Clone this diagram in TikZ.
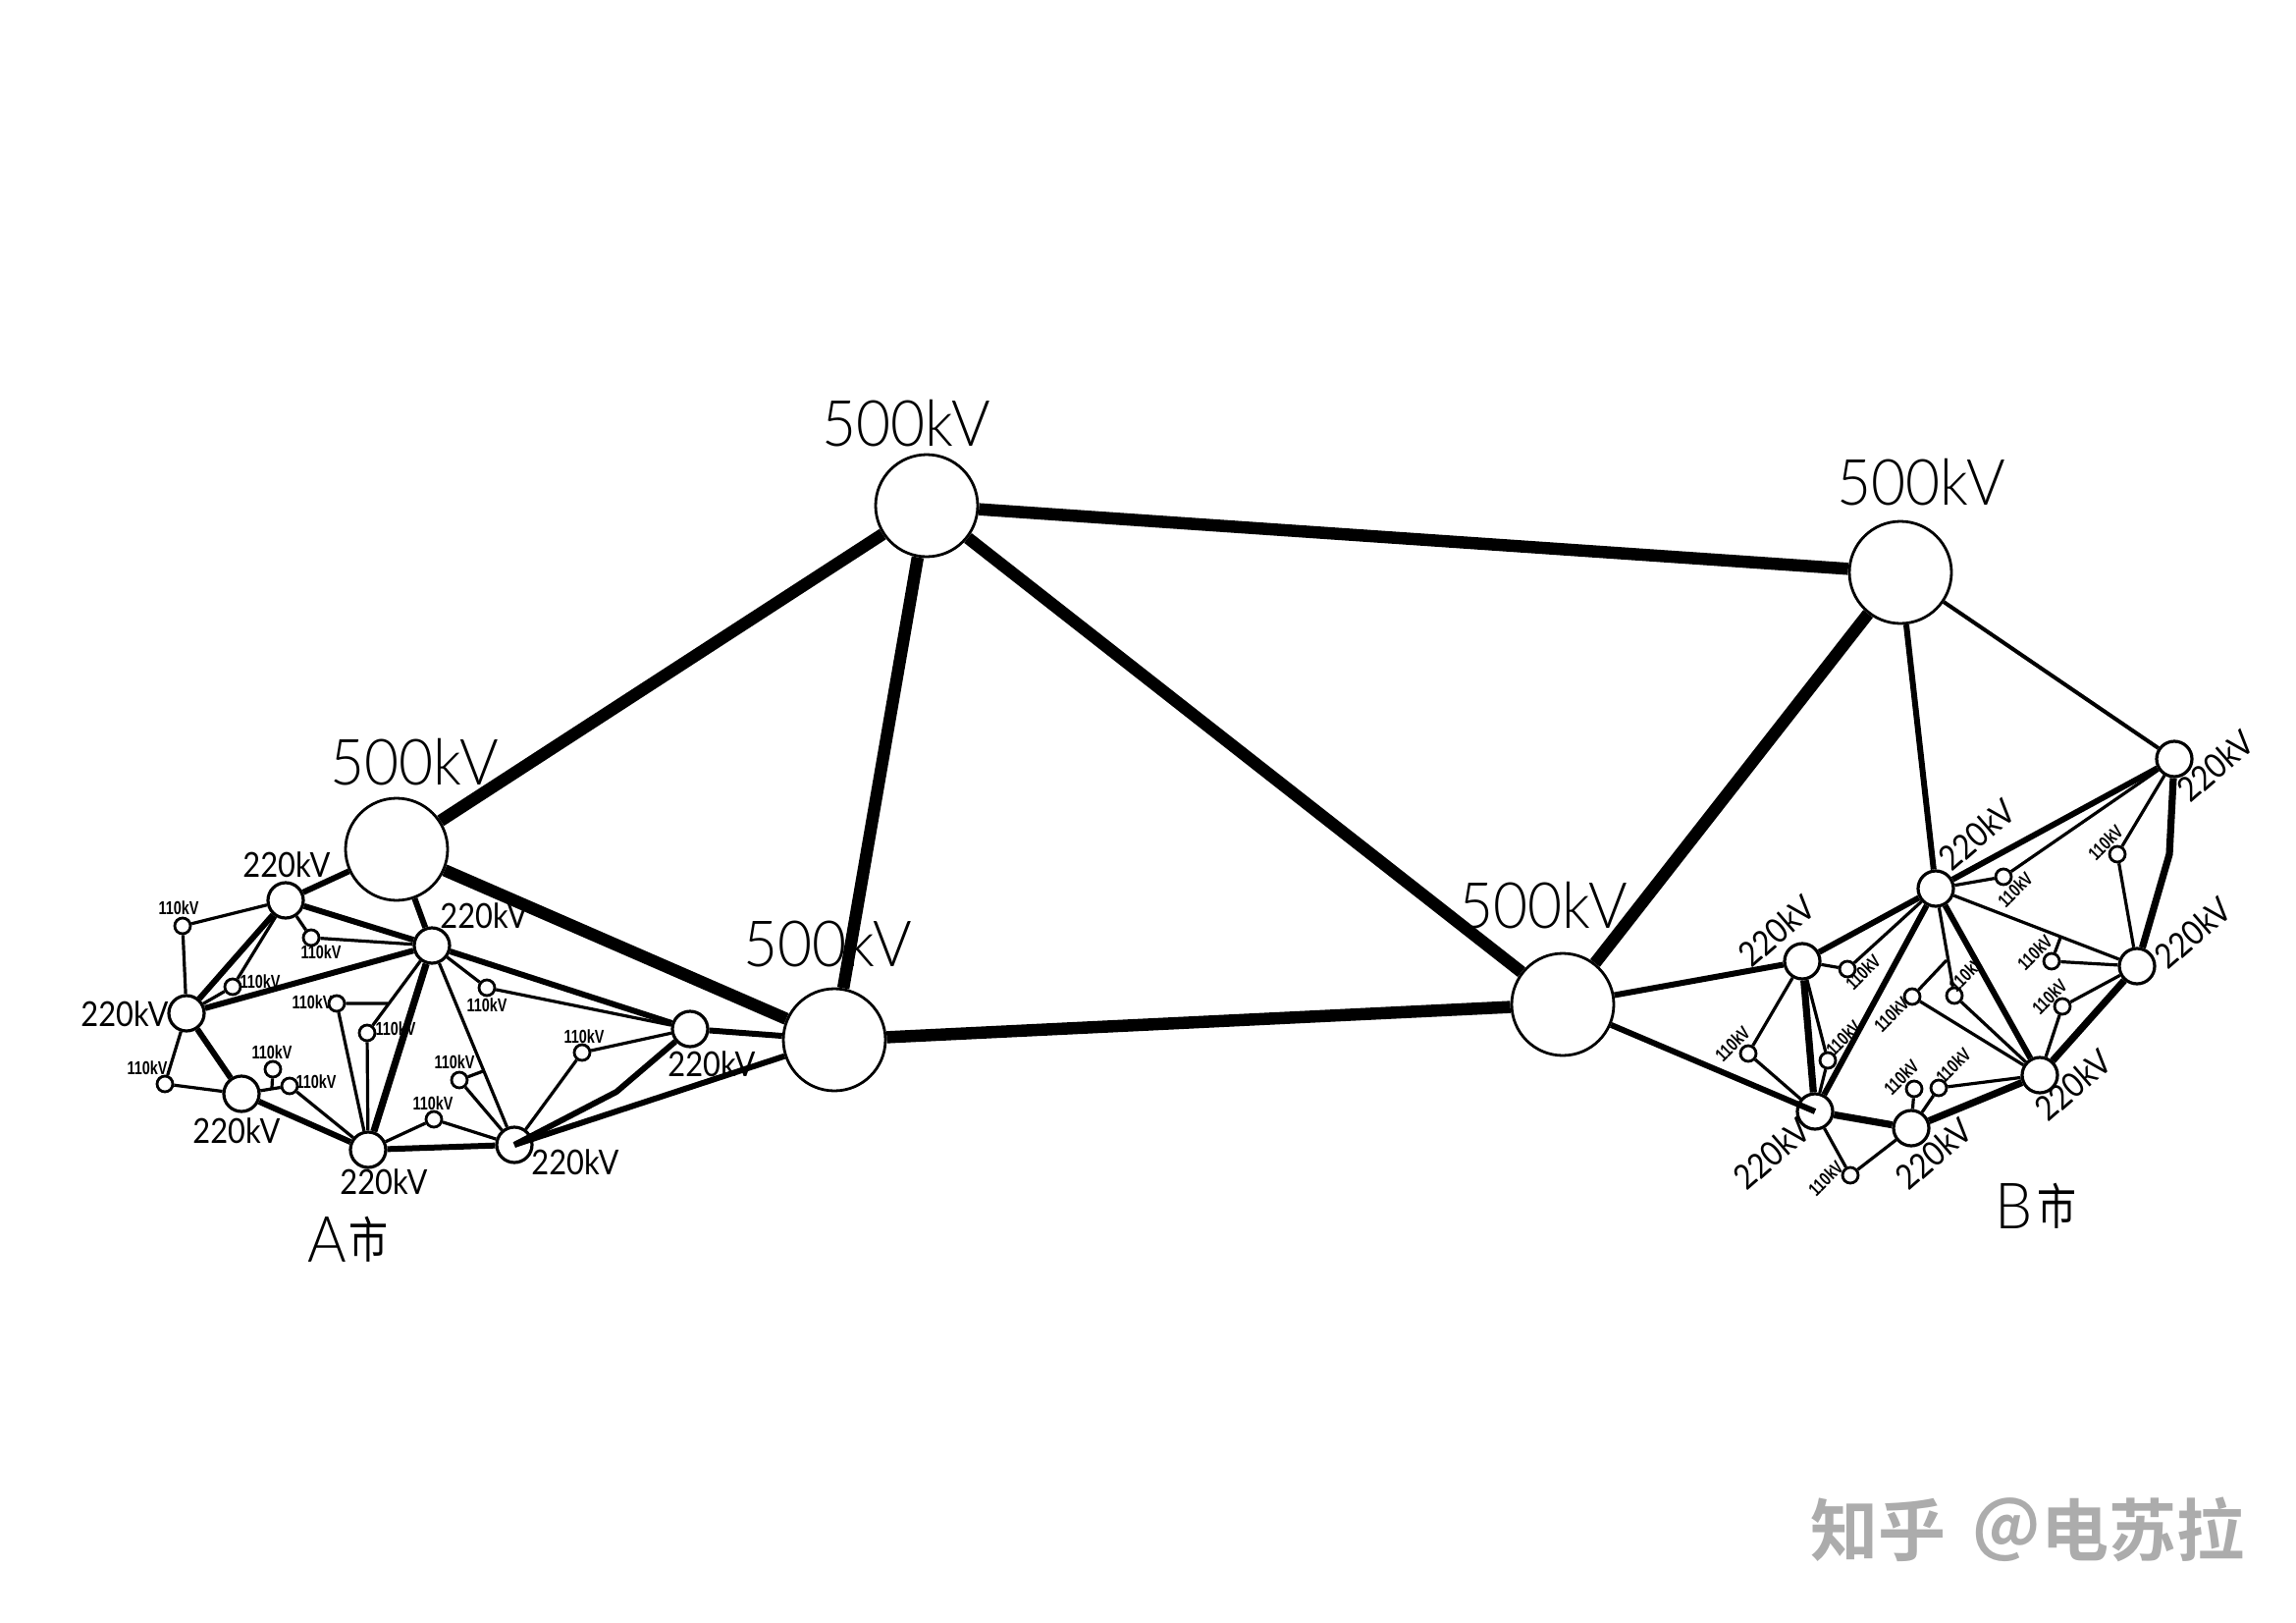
\documentclass[tikz,border=0pt]{standalone}
\usepackage{fontspec}
\setmainfont{Liberation Sans}
\newfontfamily\cadfont[FakeStretch=0.88]{Lato}
\newfontfamily\cadlight[FakeStretch=0.93]{Lato Light}
\newfontfamily\tinyfont[FakeStretch=0.76]{Liberation Sans Bold}
\newfontfamily\cityfont[FakeStretch=0.8]{Noto Sans CJK SC}
\newfontfamily\markfont{Noto Sans CJK SC Bold}
\tikzset{
  bigstn/.style={circle,draw=black,fill=white,line width=2.8pt,minimum size=104pt,inner sep=0pt},
  midstn/.style={circle,draw=black,fill=white,line width=3.2pt,minimum size=36pt,inner sep=0pt},
  smallstn/.style={circle,draw=black,fill=white,line width=2.8pt,minimum size=16pt,inner sep=0pt},
  hv/.style={line width=12.5pt,black},
  mv/.style={line width=6pt,black},
  mvb/.style={line width=7.2pt,black},
  lv/.style={line width=3.2pt,black},
  lvb/.style={line width=4pt,black},
  lab500/.style={inner sep=0pt,font=\cadlight\fontsize{65}{65}\selectfont},
  lab220/.style={inner sep=0pt,font=\cadfont\fontsize{35}{35}\selectfont},
  lab110/.style={inner sep=0pt,font=\tinyfont\fontsize{19}{19}\selectfont},
  labcity/.style={inner sep=0pt,font=\cadlight\fontsize{65}{65}\selectfont},
  labshi/.style={inner sep=0pt,font=\cityfont\fontsize{50}{50}\selectfont},
  labmark/.style={inner sep=0pt,text={rgb,255:red,172;green,172;blue,172},font=\markfont\fontsize{69}{69}\selectfont}
}
\begin{document}
\begin{tikzpicture}[x=1pt,y=-1pt]
\useasboundingbox (0,0) rectangle (2339,1653);
\fill[white] (0,0) rectangle (2339,1653);
% 500 kV
\node[bigstn] (T) at (944,515) {};
\node[bigstn] (R) at (1936,583) {};
\node[bigstn] (L) at (404,865) {};
\node[bigstn] (M) at (850,1059) {};
\node[bigstn] (E) at (1592,1023) {};
% A 220
\node[midstn] (a1) at (291,917) {};
\node[midstn] (a2) at (440,963) {};
\node[midstn] (a3) at (190,1032) {};
\node[midstn] (a4) at (246,1114) {};
\node[midstn] (a5) at (375,1171) {};
\node[midstn] (a6) at (524,1166) {};
\node[midstn] (a7) at (703,1048) {};
% A 110
\node[smallstn] (n1) at (186,943) {};
\node[smallstn] (n2) at (317,955) {};
\node[smallstn] (n3) at (237,1005) {};
\node[smallstn] (n4) at (343,1022) {};
\node[smallstn] (n5) at (374,1052) {};
\node[smallstn] (n6) at (278,1089) {};
\node[smallstn] (n7) at (295,1106) {};
\node[smallstn] (n8) at (168,1104) {};
\node[smallstn] (n9) at (496,1006) {};
\node[smallstn] (n10) at (593,1072) {};
\node[smallstn] (n11) at (468,1100) {};
\node[smallstn] (n12) at (442,1140) {};
\coordinate (ja1) at (395,1022);
\coordinate (ja2) at (277,1108);
\coordinate (ja3) at (492,1091);
\coordinate (ja4) at (628,1112);
% B 220
\node[midstn] (b1) at (1836,979) {};
\node[midstn] (b2) at (1972,905) {};
\node[midstn] (b3) at (1849,1132) {};
\node[midstn] (b4) at (1947,1149) {};
\node[midstn] (b5) at (2078,1095) {};
\node[midstn] (b6) at (2177,984) {};
\node[midstn] (b7) at (2215,773) {};
% B 110
\node[smallstn] (m1) at (1882,987) {};
\node[smallstn] (m2) at (1781,1073) {};
\node[smallstn] (m3) at (1862,1080) {};
\node[smallstn] (m4) at (1948,1015) {};
\node[smallstn] (m5) at (1991,1014) {};
\node[smallstn] (m6) at (1950,1109) {};
\node[smallstn] (m7) at (1975,1108) {};
\node[smallstn] (m8) at (1885,1197) {};
\node[smallstn] (m9) at (2041,893) {};
\node[smallstn] (m10) at (2157,870) {};
\node[smallstn] (m11) at (2090,979) {};
\node[smallstn] (m12) at (2101,1025) {};
\coordinate (jb1) at (1983,978);
\coordinate (jb2) at (2099,955);
\coordinate (jb3) at (2210,870);
% trunk
\draw[hv] (T) -- (L);
\draw[hv] (T) -- (M);
\draw[hv] (T) -- (E);
\draw[hv] (T) -- (R);
\draw[hv] (L) -- (M);
\draw[hv] (M) -- (E);
\draw[hv] (E) -- (R);
% A medium
\draw[mv] (L) -- (a1);
\draw[mv] (L) -- (a2);
\draw[mv] (a1) -- (a2);
\draw[mv] (a1) -- (a3);
\draw[mv] (a2) -- (a3);
\draw[mv] (a3) -- (a4);
\draw[mv] (a4) -- (a5);
\draw[mvb] (a5) -- (a2);
\draw[mv] (a5) -- (a6);
\draw[mv] (a2) -- (a7);
\draw[mv] (a7) -- (M);
\draw[mv] (a6.center) -- (ja4) -- (a7);
\draw[mv] (a6.center) -- (M);
% A thin
\draw[lv] (a2) -- (a6);
\draw[lv] (a3) -- (n1) -- (a1);
\draw[lv] (a1) -- (n2) -- (a2);
\draw[lv] (a1) -- (n3) -- (a3);
\draw[lv] (a5) -- (n4) -- (ja1);
\draw[lv] (a5) -- (n5) -- (a2);
\draw[lv] (n6) -- (ja2);
\draw[lv] (a4) -- (n7) -- (a5);
\draw[lv] (a3) -- (n8) -- (a4);
\draw[lv] (a2) -- (n9) -- (a7);
\draw[lv] (a7) -- (n10) -- (a6);
\draw[lv] (a6) -- (n11) -- (ja3);
\draw[lv] (a5) -- (n12) -- (a6);
% B medium
\draw[mv] (R) -- (b2);
\draw[lvb] (R) -- (b7);
\draw[mv] (E) -- (b1);
\draw[mv] (E) -- (b3.center);
\draw[mv] (b1) -- (b2);
\draw[mvb] (b1) -- (b3);
\draw[mv] (b2) -- (b3);
\draw[mvb] (b3) -- (b4);
\draw[mvb] (b4) -- (b5);
\draw[mv] (b5) -- (b2);
\draw[mvb] (b5) -- (b6);
\draw[mvb] (b6) -- (jb3) -- (b7);
\draw[mv] (b2) -- (b7);
% B thin
\draw[lv] (b2) -- (b6);
\draw[lv] (b1) -- (m1) -- (b2);
\draw[lv] (b1) -- (m2) -- (b3);
\draw[lv] (b1) -- (m3) -- (b3);
\draw[lv] (jb1) -- (m4) -- (b5);
\draw[lv] (b2) -- (m5) -- (b5);
\draw[lv] (m6) -- (b4);
\draw[lv] (b4) -- (m7) -- (b5);
\draw[lv] (b3) -- (m8) -- (b4);
\draw[lv] (b2) -- (m9) -- (b7);
\draw[lv] (b7) -- (m10) -- (b6);
\draw[lv] (jb2) -- (m11) -- (b6);
\draw[lv] (b6) -- (m12) -- (b5);
% labels 500
\node[lab500] (t1) at (923,431) {500kV};
\node[lab500] (t2) at (1957,491) {500kV};
\node[lab500] (t3) at (422,776) {500kV};
\node[lab500] (t4) at (843,961) {500kV};
\node[lab500] (t5) at (1572,922) {500kV};
% labels A 220
\node[lab220] (u1) at (292,881) {220kV};
\node[lab220] (u2) at (493,933) {220kV};
\node[lab220] (u3) at (127,1033) {220kV};
\node[lab220] (u4) at (241,1152) {220kV};
\node[lab220] (u5) at (391,1204) {220kV};
\node[lab220] (u6) at (586,1184) {220kV};
\node[lab220] (u7) at (725,1084) {220kV};
% labels A 110
\node[lab110] (v1) at (182,925) {110kV};
\node[lab110] (v2) at (327,970) {110kV};
\node[lab110] (v3) at (265,1000) {110kV};
\node[lab110] (v4) at (318,1021) {110kV};
\node[lab110] (v5) at (403,1048) {110kV};
\node[lab110] (v6) at (277,1072) {110kV};
\node[lab110] (v7) at (322,1102) {110kV};
\node[lab110] (v8) at (150,1088) {110kV};
\node[lab110] (v9) at (496,1024) {110kV};
\node[lab110] (v10) at (595,1056) {110kV};
\node[lab110] (v11) at (463,1082) {110kV};
\node[lab110] (v12) at (441,1124) {110kV};
% labels B 220
\node[lab220,rotate=41] (w1) at (1810,948) {220kV};
\node[lab220,rotate=41] (w2) at (2014,850) {220kV};
\node[lab220,rotate=41] (w3) at (1805,1175) {220kV};
\node[lab220,rotate=41] (w4) at (1970,1175) {220kV};
\node[lab220,rotate=41] (w5) at (2112,1105) {220kV};
\node[lab220,rotate=41] (w6) at (2234,950) {220kV};
\node[lab220,rotate=41] (w7) at (2257,780) {220kV};
% labels B 110
\node[lab110,rotate=45] (y1) at (1898,990) {110kV};
\node[lab110,rotate=45] (y2) at (1765,1063) {110kV};
\node[lab110,rotate=45] (y3) at (1878,1057) {110kV};
\node[lab110,rotate=45] (y4) at (1927,1033) {110kV};
\node[lab110,rotate=45] (y5) at (2003,992) {110kV};
\node[lab110,rotate=45] (y6) at (1937,1097) {110kV};
\node[lab110,rotate=45] (y7) at (1990,1085) {110kV};
\node[lab110,rotate=45] (y8) at (1860,1200) {110kV};
\node[lab110,rotate=45] (y9) at (2053,906) {110kV};
\node[lab110,rotate=45] (y10) at (2145,858) {110kV};
\node[lab110,rotate=45] (y11) at (2073,970) {110kV};
\node[lab110,rotate=45] (y12) at (2088,1015) {110kV};
% city
\node[labcity] (ca) at (333,1262) {A};
\node[labshi] (cas) at (375,1262) {市};
\node[labcity] (cb) at (2052,1228) {B};
\node[labshi] (cbs) at (2095,1228) {市};
% watermark
\node[labmark] (wm1) at (1913,1558) {知乎};
\node[labmark] (wm2) at (2044,1558) {@};
\node[labmark] (wm3) at (2183,1558) {电苏拉};
\end{tikzpicture}
\end{document}
